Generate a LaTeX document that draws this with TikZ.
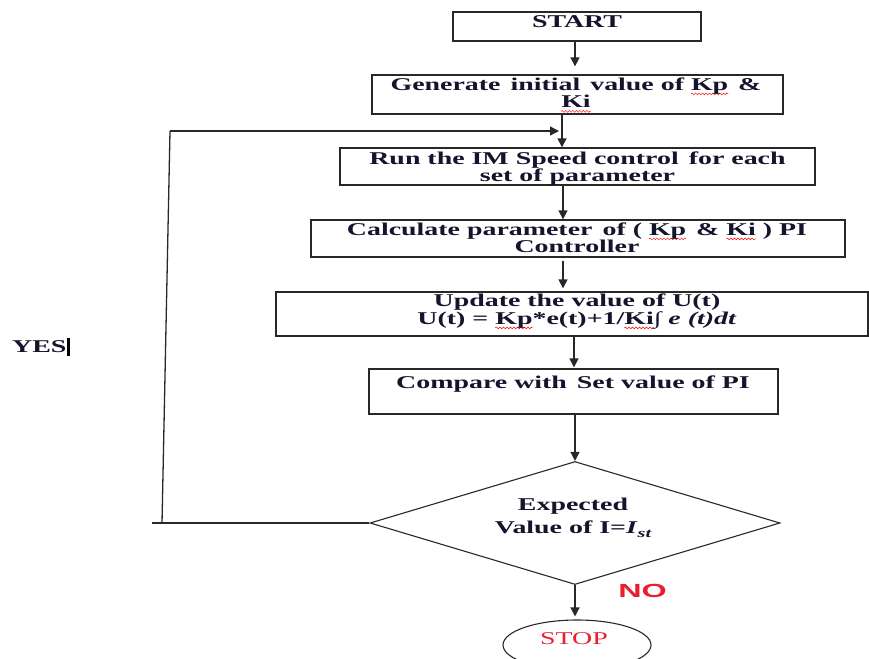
\documentclass[tikz,border=0pt]{standalone}
\usepackage{fontspec}
\usetikzlibrary{shapes.geometric,arrows.meta,decorations.pathmorphing}
\newfontfamily\tfont{Liberation Serif}[FakeStretch=1.55]
\newfontfamily\nofont{Liberation Sans}[FakeStretch=1.7]
\definecolor{ink}{RGB}{20,20,45}
\definecolor{lin}{RGB}{40,40,40}
\definecolor{redt}{RGB}{235,30,45}
\newsavebox\spbox
\newlength\splen
\newcommand{\spell}[1]{\sbox\spbox{#1}\setlength\splen{\wd\spbox}\rlap{\begin{tikzpicture}[overlay,baseline=0pt]\draw[red,line width=0.5pt,decorate,decoration={snake,amplitude=0.9pt,segment length=3.5pt}] (0pt,-3.5pt) -- (\splen,-3.5pt);\end{tikzpicture}}\usebox\spbox}
\begin{document}
\begin{tikzpicture}[x=1pt,y=-1pt,
  box/.style={draw=lin,line width=1.3pt,inner sep=0pt},
  txt/.style={font=\tfont\bfseries\fontsize{18}{17.5}\selectfont,text=ink,inner sep=0pt,align=center},
  arr/.style={draw=lin,line width=1.3pt,-{Triangle[width=9pt,length=9pt]}},
  ln/.style={draw=lin,line width=1.3pt}]
\useasboundingbox (0,0) rectangle (869,658);
% columns
\coordinate (c575) at (575,0);
\coordinate (c562) at (562,0);
\coordinate (c563) at (563,0);
\coordinate (c574) at (574,0);
% boxes
\node[box,minimum width=248,minimum height=29] (start) at (577,26.5) {};
\node[box,minimum width=411,minimum height=39] (gen) at (577.5,94.5) {};
\node[box,minimum width=475,minimum height=37] (run) at (577.5,166.5) {};
\node[box,minimum width=534,minimum height=37] (calc) at (578,238.5) {};
\node[box,minimum width=592,minimum height=44] (upd) at (572,314) {};
\node[box,minimum width=409,minimum height=45] (cmp) at (573.5,391.5) {};
\node[draw=lin,line width=1.1pt,diamond,inner sep=0pt,minimum width=410,minimum height=123] (dia) at (575,523) {};
\node[draw=lin,line width=1.1pt,ellipse,inner sep=0pt,minimum width=148,minimum height=50] (stop) at (577,645) {};
% texts
\node[txt,anchor=base] (startt) at (577,27.5) {START};
\node[txt,anchor=north] (gent) at (576,77.5) {Generate\, initial\, value of \spell{Kp} \,\&\\\spell{Ki}};
\node[txt,anchor=north] (runt) at (577.5,151.5) {Run the IM Speed control\, for each\\set of parameter};
\node[txt,anchor=north] (calct) at (577,222.5) {Calculate parameter\, of ( \spell{Kp} \,\& \spell{Ki} ) PI\\Controller};
\node[txt,anchor=north] (updt) at (577,294) {Update the value of U(t)\\U(t) = \spell{Kp}*e(t)+1/\spell{Ki}∫ \textit{e} \textit{(t)dt}};
\node[txt,anchor=base] (cmpt) at (573,388) {Compare with\, Set value of PI};
\node[txt,anchor=north,font=\tfont\bfseries\fontsize{18}{23}\selectfont] (diat) at (573,497.5) {Expected\\Value of I=\textit{I}\raisebox{-4pt}{\fontsize{13}{13}\selectfont\itshape st}};
\node[inner sep=0pt,anchor=base,font=\tfont\fontsize{18}{18}\selectfont,text=redt] (stopt) at (574,644) {STOP};
\node[inner sep=0pt,anchor=base,font=\nofont\bfseries\fontsize{19}{19}\selectfont,text=redt] (no) at (642.5,597) {NO};
\node[txt,anchor=base west] (yes) at (12,352) {YES};
\node[fill=black,inner sep=0pt,minimum width=3,minimum height=18] (cursor) at (68.5,347) {};
% connectors
\draw[arr,shorten >=8pt] (start.south -| c575) -- (gen.north -| c575);
\draw[arr] (gen.south -| c562) -- (run.north -| c562);
\draw[arr] (run.south -| c563) -- (calc.north -| c563);
\draw[arr,shorten <=3pt,shorten >=3pt] (calc.south -| c563) -- (upd.north -| c563);
\draw[arr,shorten >=1pt] (upd.south -| c574) -- (cmp.north -| c574);
\draw[arr] (cmp.south -| c575) -- (dia.north);
\draw[arr,shorten >=3pt] (dia.south) -- (stop.north -| dia.south);
% feedback loop
\coordinate (fa) at (152,523);
\coordinate (fb) at (162,523);
\coordinate (fc) at (170,131);
\draw[ln] (dia.west) -- (fa);
\draw[ln] (fb) -- (fc);
\draw[arr,shorten >=3pt] (fc) -- (fc -| c562);
\end{tikzpicture}
\end{document}
